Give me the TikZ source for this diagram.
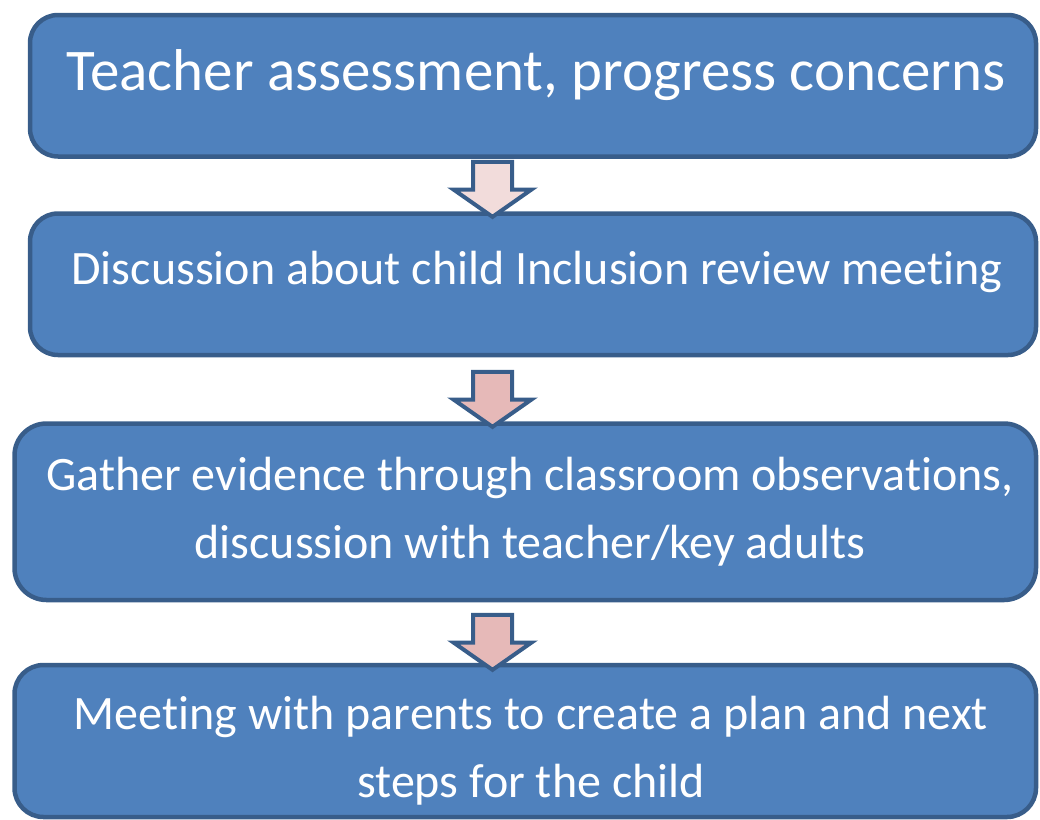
\documentclass[tikz,border=0pt]{standalone}
\usepackage{fontspec}
\setmainfont{Carlito}[Ligatures=NoCommon]
\usepackage{tikz}
\usetikzlibrary{shapes.arrows}

\definecolor{boxblue}{HTML}{4F81BD}
\definecolor{boxedge}{HTML}{385D8A}
\definecolor{palepink}{HTML}{F2DCDB}
\definecolor{rosepink}{HTML}{E6B9B8}

\tikzstyle{stage} = [rectangle, draw=boxedge, line width=4.5pt, fill=boxblue, minimum width=1006pt, minimum height=141.5pt]
\tikzstyle{stagetext} = [text=white, align=center, anchor=base, inner sep=0pt, font=\fontsize{48}{67.5}\selectfont]
\tikzstyle{flow} = [single arrow, shape border rotate=270, draw=boxedge, line width=4pt, inner sep=0pt, text width=35pt, minimum height=55pt, minimum width=74pt, single arrow head extend=19.5pt, single arrow head indent=0pt, single arrow tip angle=110]

\begin{document}
\begin{tikzpicture}[x=1pt, y=-1pt]
  \useasboundingbox (0,0) rectangle (1040,819);

  % the four stages
  \node (teacher) [stage, rounded corners=28pt] at (533,85.75) {};
  \node (review) [stage, rounded corners=28pt] at (533,284.25) {};
  \node (evidence) [stage, rounded corners=32pt, minimum width=1021.5pt, minimum height=176.5pt] at (525.25,511.75) {};
  \node (parents) [stage, rounded corners=29pt, minimum width=1021.5pt, minimum height=152pt] at (525.25,741) {};

  % texts sit on the baseline of their last line
  \node (teachertext) [stagetext, font=\fontsize{59}{67.5}\selectfont] at (536,90) {Teacher assessment, progress concerns};
  \node (reviewtext) [stagetext] at (537,284) {Discussion about child Inclusion review meeting};
  \node (evidencetext) [stagetext] at (530,558) {Gather evidence through classroom observations,\\discussion with teacher/key adults};
  \node (parentstext) [stagetext] at (531,797) {Meeting with parents to create a plan and next\\steps for the child};

  % block arrows between stages
  \node (flowa) [flow, fill=palepink] at (492.5,182.5) {};
  \node (flowb) [flow, fill=rosepink] at (492.5,392.5) {};
  \node (flowc) [flow, fill=rosepink] at (492.5,635.5) {};

\end{tikzpicture}
\end{document}
